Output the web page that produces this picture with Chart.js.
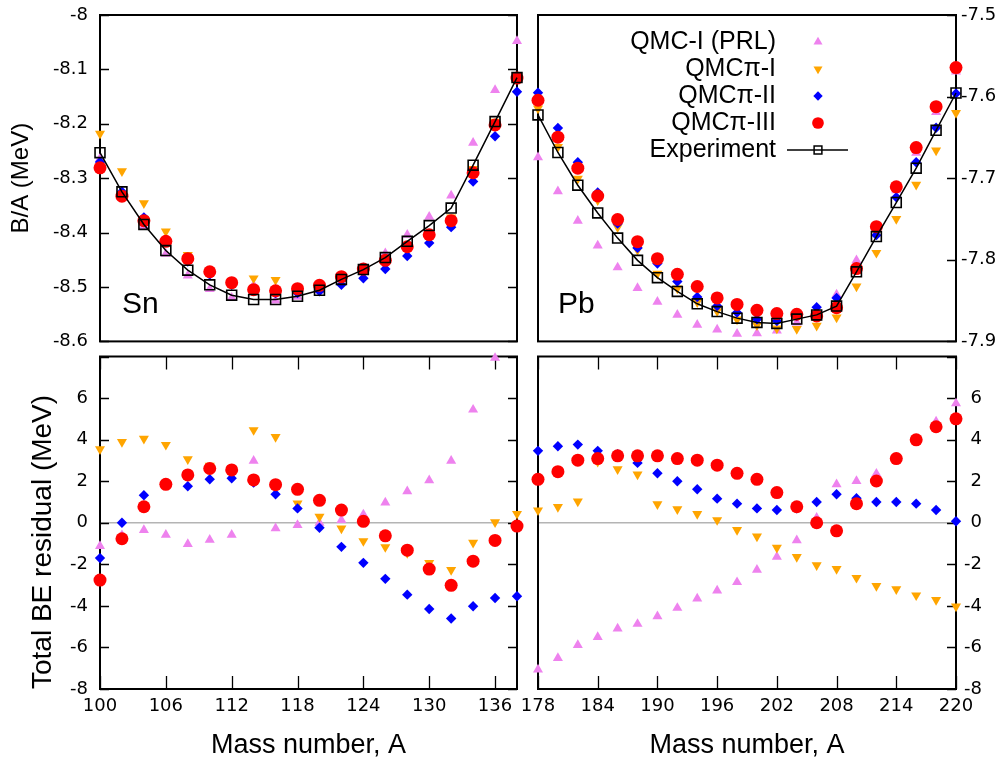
<!DOCTYPE html>
<html>
<head>
<meta charset="utf-8">
<script src="https://cdn.jsdelivr.net/npm/chart.js"></script>
<style>
  body { margin: 0; background: #fff; }
  #wrap { position: relative; width: 1007px; height: 760px; }
  canvas { position: absolute; }
</style>
</head>
<body>
<div id="wrap">
  <canvas id="sn-ba" width="528" height="350" style="left:0;top:0"></canvas>
  <canvas id="pb-ba" width="489" height="350" style="left:518px;top:0"></canvas>
  <canvas id="sn-res" width="528" height="410" style="left:0;top:350px"></canvas>
  <canvas id="pb-res" width="489" height="410" style="left:518px;top:350px"></canvas>
</div>
<script>
// mass numbers
const snA = [100, 102, 104, 106, 108, 110, 112, 114, 116, 118, 120, 122, 124, 126, 128, 130, 132, 134, 136, 138];
const pbA = [178, 180, 182, 184, 186, 188, 190, 192, 194, 196, 198, 200, 202, 204, 206, 208, 210, 212, 214, 216, 218, 220];

// Sn binding energy per nucleon (MeV)
const snExp = [-8.253, -8.325, -8.385, -8.433, -8.469, -8.496, -8.515, -8.523, -8.523, -8.517, -8.506, -8.486, -8.468, -8.446, -8.416, -8.387, -8.355, -8.276, -8.196, -8.115];
const snPrl = [-8.264, -8.331, -8.388, -8.439, -8.479, -8.504, -8.520, -8.497, -8.525, -8.518, -8.506, -8.485, -8.465, -8.438, -8.404, -8.371, -8.332, -8.235, -8.138, -8.048];
const snPi1 = [-8.218, -8.287, -8.346, -8.398, -8.441, -8.471, -8.493, -8.484, -8.487, -8.509, -8.504, -8.488, -8.475, -8.455, -8.427, -8.402, -8.372, -8.283, -8.196, -8.112];
const snPi2 = [-8.270, -8.325, -8.372, -8.416, -8.453, -8.477, -8.496, -8.506, -8.511, -8.511, -8.508, -8.496, -8.484, -8.467, -8.443, -8.419, -8.390, -8.306, -8.223, -8.141];
const snPi3 = [-8.281, -8.333, -8.378, -8.416, -8.448, -8.472, -8.492, -8.505, -8.507, -8.503, -8.497, -8.481, -8.467, -8.451, -8.426, -8.404, -8.378, -8.290, -8.202, -8.116];

// Pb binding energy per nucleon (MeV)
const pbExp = [-7.6225, -7.6685, -7.7086, -7.7426, -7.7734, -7.8007, -7.8219, -7.8387, -7.8539, -7.8635, -7.8715, -7.8767, -7.8780, -7.8727, -7.8675, -7.8567, -7.8147, -7.7715, -7.7298, -7.6877, -7.6413, -7.5956];
const pbPrl = [-7.6745, -7.7162, -7.7522, -7.7826, -7.8094, -7.8347, -7.8515, -7.8675, -7.8796, -7.8856, -7.8908, -7.8900, -7.8868, -7.8770, -7.8660, -7.8427, -7.8007, -7.7600, -7.7150, -7.6690, -7.6190, -7.5695];
const pbPi1 = [-7.6145, -7.6617, -7.7006, -7.7270, -7.7600, -7.7880, -7.8170, -7.8350, -7.8520, -7.8630, -7.8730, -7.8800, -7.8840, -7.8848, -7.8808, -7.8707, -7.8327, -7.7914, -7.7500, -7.7080, -7.6660, -7.6200];
const pbPi2 = [-7.5952, -7.6385, -7.6805, -7.7174, -7.7557, -7.7854, -7.8046, -7.8267, -7.8456, -7.8567, -7.8647, -7.8730, -7.8750, -7.8690, -7.8580, -7.8467, -7.8090, -7.7698, -7.7234, -7.6805, -7.6381, -7.5961];
const pbPi3 = [-7.6045, -7.6497, -7.6877, -7.7218, -7.7506, -7.7778, -7.7986, -7.8178, -7.8327, -7.8467, -7.8547, -7.8619, -7.8659, -7.8667, -7.8688, -7.8587, -7.8107, -7.7594, -7.7106, -7.6625, -7.6124, -7.5644];

// total BE residuals (MeV)
const snResPrl = [-1.12, -0.60, -0.35, -0.58, -1.03, -0.82, -0.58, 2.98, -0.27, -0.11, 0.00, 0.13, 0.40, 0.97, 1.51, 2.04, 2.98, 5.44, 7.93, 9.20];
const snResPi1 = [3.54, 3.89, 4.05, 3.75, 3.06, 2.75, 2.50, 4.46, 4.13, 0.93, 0.29, -0.27, -0.88, -1.17, -1.45, -1.93, -2.27, -0.96, 0.03, 0.43];
const snResPi2 = [-1.70, 0.00, 1.32, 1.85, 1.76, 2.09, 2.14, 1.93, 1.37, 0.69, -0.24, -1.16, -1.93, -2.70, -3.46, -4.15, -4.61, -4.02, -3.62, -3.54];
const snResPi3 = [-2.76, -0.77, 0.77, 1.85, 2.30, 2.61, 2.54, 2.06, 1.83, 1.61, 1.08, 0.61, 0.07, -0.63, -1.32, -2.23, -3.01, -1.85, -0.85, -0.16];

const pbResPrl = [-7.07, -6.51, -5.89, -5.50, -5.09, -4.87, -4.50, -4.10, -3.65, -3.26, -2.86, -2.27, -1.64, -0.85, 0.24, 1.85, 2.01, 2.36, 3.10, 4.00, 4.87, 5.74];
const pbResPi1 = [0.60, 0.76, 1.03, 2.94, 2.58, 2.33, 0.89, 0.65, 0.42, 0.13, -0.35, -0.66, -1.20, -1.64, -2.04, -2.22, -2.65, -3.04, -3.20, -3.49, -3.71, -4.03];
const pbResPi2 = [3.46, 3.68, 3.76, 3.46, 3.30, 2.88, 2.38, 2.00, 1.61, 1.16, 0.92, 0.69, 0.61, 0.69, 1.00, 1.37, 1.18, 1.00, 1.00, 0.92, 0.61, 0.07];
const pbResPi3 = [2.09, 2.46, 3.01, 3.09, 3.22, 3.22, 3.22, 3.09, 3.01, 2.77, 2.38, 2.09, 1.45, 0.77, 0.00, -0.39, 0.92, 2.01, 3.09, 3.99, 4.62, 5.00];

// tick values
const snTicks = [100, 106, 112, 118, 124, 130, 136];
const pbTicks = [178, 184, 190, 196, 202, 208, 214, 220];
const snBaTicks = [-8.6, -8.5, -8.4, -8.3, -8.2, -8.1, -8];
const pbBaTicks = [-7.9, -7.8, -7.7, -7.6, -7.5];
const resTicks = [-8, -6, -4, -2, 0, 2, 4, 6, 8];

const legendNames = ['QMC-I (PRL)', 'QMCπ-I', 'QMCπ-II', 'QMCπ-III', 'Experiment'];

const tickFont = { family: 'DejaVu Sans', size: 18 };

function titleFont(size) {
  return { family: 'Liberation Sans', size: size, lineHeight: 1.04 };
}

function pts(xs, ys) {
  return xs.map((x, i) => ({ x: x, y: ys[i] }));
}

function makeSets(xs, prl, pi1, pi2, pi3, exp) {
  const sets = [
    { label: legendNames[0], data: pts(xs, prl), pointStyle: 'triangle', pointRadius: 5.8,
      pointBackgroundColor: '#ee82ee', pointBorderWidth: 0, order: 4 },
    { label: legendNames[1], data: pts(xs, pi1), pointStyle: 'triangle', pointRotation: 180, pointRadius: 5.8,
      pointBackgroundColor: '#ffa500', pointBorderWidth: 0, order: 3 },
    { label: legendNames[2], data: pts(xs, pi2), pointStyle: 'rectRot', pointRadius: 5.2,
      pointBackgroundColor: '#0000ff', pointBorderWidth: 0, order: 2 },
    { label: legendNames[3], data: pts(xs, pi3), pointStyle: 'circle', pointRadius: 6.5,
      pointBackgroundColor: '#ff0000', pointBorderWidth: 0, order: 1 }
  ];
  if (exp) {
    sets.push({ label: legendNames[4], data: pts(xs, exp), showLine: true, borderColor: '#000', borderWidth: 1.5,
      pointStyle: 'rect', pointRadius: 7, pointBackgroundColor: 'rgba(0,0,0,0)',
      pointBorderColor: '#000', pointBorderWidth: 1.6, order: 0 });
  }
  sets.forEach(s => { s.clip = 10; });
  return sets;
}

// frame, inward ticks and the element label
const framePlugin = {
  id: 'frame',
  beforeDatasetsDraw(chart, args, opts) {
    const { ctx, chartArea: a, scales } = chart;
    ctx.save();
    ctx.strokeStyle = '#000';
    ctx.lineWidth = 1.3;
    ctx.beginPath();
    scales.y.ticks.forEach(t => {
      const py = Math.round(scales.y.getPixelForValue(t.value)) + 0.5;
      if (opts.yl) { ctx.moveTo(a.left, py); ctx.lineTo(a.left + 9, py); }
      if (opts.yr) { ctx.moveTo(a.right - 9, py); ctx.lineTo(a.right, py); }
    });
    scales.x.ticks.forEach(t => {
      const px = Math.round(scales.x.getPixelForValue(t.value)) + 0.5;
      if (opts.xt) { ctx.moveTo(px, a.top); ctx.lineTo(px, a.top + 13); }
      if (opts.xb) { ctx.moveTo(px, a.bottom - 13); ctx.lineTo(px, a.bottom); }
    });
    ctx.stroke();
    ctx.lineWidth = 2;
    ctx.strokeRect(a.left, a.top, a.right - a.left, a.bottom - a.top);
    if (opts.label) {
      ctx.fillStyle = '#000';
      ctx.font = '30px "Liberation Sans"';
      ctx.textBaseline = 'alphabetic';
      ctx.fillText(opts.label, a.left + opts.lx, opts.ly);
    }
    ctx.restore();
  }
};

// legend in the Pb panel: text right-aligned, sample on the right
const legendPlugin = {
  id: 'qmcLegend',
  afterDatasetsDraw(chart, args, opts) {
    const { ctx, chartArea: a } = chart;
    ctx.save();
    ctx.font = '25px "Liberation Sans"';
    ctx.textAlign = 'right';
    ctx.textBaseline = 'middle';
    chart.data.datasets.forEach((ds, i) => {
      const y = opts.top + i * opts.step;
      const mx = a.left + opts.mark;
      ctx.fillStyle = '#000';
      ctx.fillText(ds.label, a.left + opts.textRight, y);
      if (ds.showLine) {
        ctx.strokeStyle = ds.borderColor;
        ctx.lineWidth = ds.borderWidth;
        ctx.beginPath();
        ctx.moveTo(mx - 31, y);
        ctx.lineTo(mx + 30, y);
        ctx.stroke();
      }
      ctx.fillStyle = ds.pointBackgroundColor;
      ctx.strokeStyle = ds.pointBorderColor || ds.pointBackgroundColor;
      Chart.helpers.drawPoint(ctx, {
        pointStyle: ds.pointStyle,
        radius: ds.showLine ? 5.5 : ds.pointRadius * 0.9,
        rotation: ds.pointRotation || 0,
        borderWidth: ds.pointBorderWidth
      }, mx, y);
    });
    ctx.restore();
  }
};

function panel(id, sets, o) {
  const labelCb = v => (o.hide && o.hide.includes(v)) ? '' : String(v);
  return new Chart(document.getElementById(id), {
    type: 'scatter',
    data: { datasets: sets },
    options: {
      responsive: false,
      animation: false,
      events: [],
      layout: { padding: o.padding },
      plugins: {
        legend: { display: false },
        tooltip: { enabled: false },
        frame: o.frame,
        qmcLegend: o.legend || false
      },
      scales: {
        x: {
          type: 'linear', min: o.xmin, max: o.xmax, display: o.showX,
          afterBuildTicks: s => { s.ticks = o.xticks.map(v => ({ value: v })); },
          afterFit: s => {
            if (o.showX) s.height = 71;
            s.paddingLeft = 0; s.paddingRight = 0;
          },
          grid: { display: false, drawTicks: false },
          border: { display: false },
          ticks: { font: tickFont, color: '#000', padding: 7, maxRotation: 0, autoSkip: false, callback: v => String(v) },
          title: { display: o.showX, text: 'Mass number, A', font: titleFont(27), color: '#000', padding: { top: 0, bottom: 0 } }
        },
        y: {
          type: 'linear', min: o.ymin, max: o.ymax, position: o.ypos,
          afterBuildTicks: s => { s.ticks = o.yticks.map(v => ({ value: v })); },
          afterFit: s => {
            s.width = o.ywidth;
            s.paddingTop = 0; s.paddingBottom = 0;
          },
          grid: {
            drawTicks: false,
            lineWidth: 1.5,
            color: c => (o.zero && c.tick && c.tick.value === 0) ? '#b4b4b4' : 'rgba(0,0,0,0)'
          },
          border: { display: false },
          ticks: { font: tickFont, color: '#000', padding: o.ypad, crossAlign: o.cross || 'near', autoSkip: false, callback: labelCb },
          title: {
            display: !!o.ytitle, text: o.ytitle || '', font: titleFont(o.ytitleSize || 25), color: '#000',
            align: o.ytitleAlign || 'center', padding: { top: o.ytitlePad || 0, bottom: 0 }
          }
        }
      }
    },
    plugins: [framePlugin, legendPlugin]
  });
}

panel('sn-ba', makeSets(snA, snPrl, snPi1, snPi2, snPi3, snExp), {
  padding: { top: 15, right: 11, bottom: 3, left: 0 },
  xmin: 100, xmax: 138, xticks: snTicks, showX: false,
  ymin: -8.6, ymax: -8, yticks: snBaTicks, ypos: 'left', ywidth: 100, ypad: 12,
  ytitle: 'B/A (MeV)', ytitlePad: 9, ytitleSize: 24,
  frame: { yl: true, yr: true, label: 'Sn', lx: 22, ly: 313 }
});

panel('pb-ba', makeSets(pbA, pbPrl, pbPi1, pbPi2, pbPi3, pbExp), {
  padding: { top: 15, right: 0, bottom: 3, left: 20 },
  xmin: 178, xmax: 220, xticks: pbTicks, showX: false,
  ymin: -7.9, ymax: -7.5, yticks: pbBaTicks, ypos: 'right', ywidth: 51, ypad: 5,
  frame: { yr: true, label: 'Pb', lx: 20, ly: 313 },
  legend: { top: 42, step: 27, textRight: 238, mark: 280 }
});

panel('sn-res', makeSets(snA, snResPrl, snResPi1, snResPi2, snResPi3, null), {
  padding: { top: 6, right: 11, bottom: 0, left: 0 },
  xmin: 100, xmax: 138, xticks: snTicks, showX: true,
  ymin: -8, ymax: 8, yticks: resTicks, ypos: 'left', ywidth: 100, ypad: 12, hide: [8], zero: true,
  ytitle: 'Total BE residual (MeV)', ytitlePad: 29, ytitleSize: 28, ytitleAlign: 'start',
  frame: { yl: true, yr: true, xt: true, xb: true }
});

panel('pb-res', makeSets(pbA, pbResPrl, pbResPi1, pbResPi2, pbResPi3, null), {
  padding: { top: 6, right: 25, bottom: 0, left: 20 },
  xmin: 178, xmax: 220, xticks: pbTicks, showX: true,
  ymin: -8, ymax: 8, yticks: resTicks, ypos: 'right', ywidth: 26, ypad: 5, cross: 'far', hide: [8], zero: true,
  frame: { yr: true, xt: true, xb: true }
});
</script>
</body>
</html>
